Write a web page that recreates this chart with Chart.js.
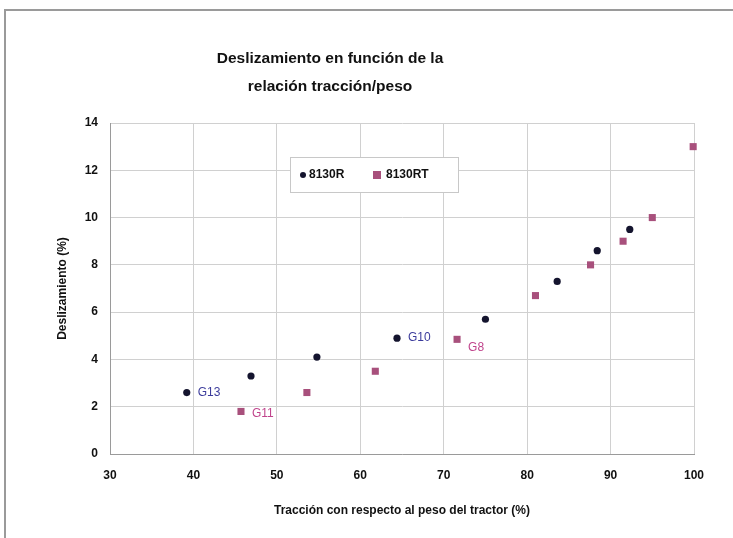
<!DOCTYPE html>
<html>
<head>
<meta charset="utf-8">
<script src="https://cdn.jsdelivr.net/npm/chart.js@4/dist/chart.umd.min.js"></script>
<style>
  html, body { margin: 0; padding: 0; background: #fff; }
  #wrap { position: relative; width: 733px; height: 538px; }
  #frame { position: absolute; left: 4px; top: 9px; right: 0; bottom: 0;
           border-top: 2px solid #9a9a9a; border-left: 2px solid #9a9a9a; }
  canvas { position: absolute; left: 0; top: 0; }
</style>
</head>
<body>
<div id="wrap">
  <div id="frame"></div>
  <canvas id="myChart" width="733" height="538"></canvas>
</div>
<script>
// data
const titleLines = ['Deslizamiento en función de la', 'relación tracción/peso'];
const xTitle = 'Tracción con respecto al peso del tractor (%)';
const yTitle = 'Deslizamiento (%)';

const seriesNames = ['8130R', '8130RT'];
const rX = [39.2, 46.9, 54.8, 64.4, 75.0, 83.6, 88.4, 92.3];
const rY = [2.6, 3.3, 4.1, 4.9, 5.7, 7.3, 8.6, 9.5];
const rLabels = ['G13', '', '', 'G10', '', '', '', ''];
const rtX = [45.7, 53.6, 61.8, 71.6, 81.0, 87.6, 91.5, 95.0, 99.9];
const rtY = [1.8, 2.6, 3.5, 4.85, 6.7, 8.0, 9.0, 10.0, 13.0];
const rtLabels = ['G11', '', '', 'G8', '', '', '', '', ''];

const xMin = 30, xMax = 100, xStep = 10;
const yMin = 0, yMax = 14, yStep = 2;

const colR = '#14142e';
const colRT = '#a8507c';
const FONT = 'Arial, "Liberation Sans", sans-serif';

function toPoints(xs, ys) {
  return xs.map((x, i) => ({ x: x, y: ys[i] }));
}

// title, legend box and point labels
const extras = {
  id: 'extras',
  afterDraw(chart) {
    const ctx = chart.ctx;
    ctx.save();
    ctx.fillStyle = '#111';
    ctx.font = 'bold 15.5px ' + FONT;
    ctx.textAlign = 'center';
    ctx.textBaseline = 'middle';
    ctx.fillText(titleLines[0], 330, 59);
    ctx.fillText(titleLines[1], 330, 87);

    // legend
    ctx.strokeStyle = '#c8c8c8';
    ctx.lineWidth = 1;
    ctx.fillStyle = '#fff';
    ctx.fillRect(290.5, 157.5, 168, 35);
    ctx.strokeRect(290.5, 157.5, 168, 35);
    ctx.fillStyle = colR;
    ctx.beginPath();
    ctx.arc(303, 175, 3, 0, Math.PI * 2);
    ctx.fill();
    ctx.fillStyle = colRT;
    ctx.fillRect(373, 171, 8, 8);
    ctx.fillStyle = '#111';
    ctx.font = 'bold 12px ' + FONT;
    ctx.textAlign = 'left';
    ctx.fillText(seriesNames[0], 309, 175);
    ctx.fillText(seriesNames[1], 386, 175);

    // point labels
    ctx.font = '12px ' + FONT;
    const labelSets = [
      { labels: rLabels, color: '#3c3c9c', dy: 0 },
      { labels: rtLabels, color: '#c0448c', dy: 2 }
    ];
    labelSets.forEach((set, di) => {
      const meta = chart.getDatasetMeta(di);
      ctx.fillStyle = set.color;
      set.labels.forEach((lab, i) => {
        if (!lab) return;
        const el = meta.data[i];
        let dy = set.dy;
        if (lab === 'G8') dy = 8;
        ctx.fillText(lab, el.x + 11, el.y + dy);
      });
    });
    ctx.restore();
  }
};

window.onload = function() {
  const ctx = document.getElementById('myChart').getContext('2d');
  Chart.defaults.font.family = FONT;
  Chart.defaults.color = '#111';
  new Chart(ctx, {
    type: 'scatter',
    data: {
      datasets: [
        {
          label: seriesNames[0],
          data: toPoints(rX, rY),
          pointStyle: 'circle',
          pointRadius: 3.6,
          backgroundColor: colR,
          borderColor: colR,
          borderWidth: 0,
          clip: false
        },
        {
          label: seriesNames[1],
          data: toPoints(rtX, rtY),
          pointStyle: 'rect',
          pointRadius: 5,
          backgroundColor: colRT,
          borderColor: colRT,
          borderWidth: 0,
          clip: false
        }
      ]
    },
    options: {
      responsive: false,
      animation: false,
      layout: { padding: { top: 123, right: 39, left: 0, bottom: 16 } },
      plugins: {
        legend: { display: false },
        title: { display: false },
        tooltip: { enabled: false }
      },
      scales: {
        x: {
          type: 'linear',
          min: xMin,
          max: xMax,
          afterFit: s => { s.height = 68; },
          ticks: { stepSize: xStep, padding: 14, font: { size: 12, weight: 'bold' }, color: '#111' },
          grid: { color: '#d0d0d0', drawTicks: false },
          border: { color: '#9a9a9a' },
          title: { display: true, text: xTitle, font: { size: 12, weight: 'bold' }, color: '#111', padding: { top: 14 } }
        },
        y: {
          type: 'linear',
          min: yMin,
          max: yMax,
          afterFit: s => { s.width = 110; },
          ticks: { stepSize: yStep, padding: 12, font: { size: 12, weight: 'bold' }, color: '#111' },
          grid: { color: '#d0d0d0', drawTicks: false },
          border: { color: '#9a9a9a' },
          title: { display: true, text: yTitle, font: { size: 12, weight: 'bold' }, color: '#111', padding: { top: 55 } }
        }
      }
    },
    plugins: [extras]
  });
};
</script>
</body>
</html>
